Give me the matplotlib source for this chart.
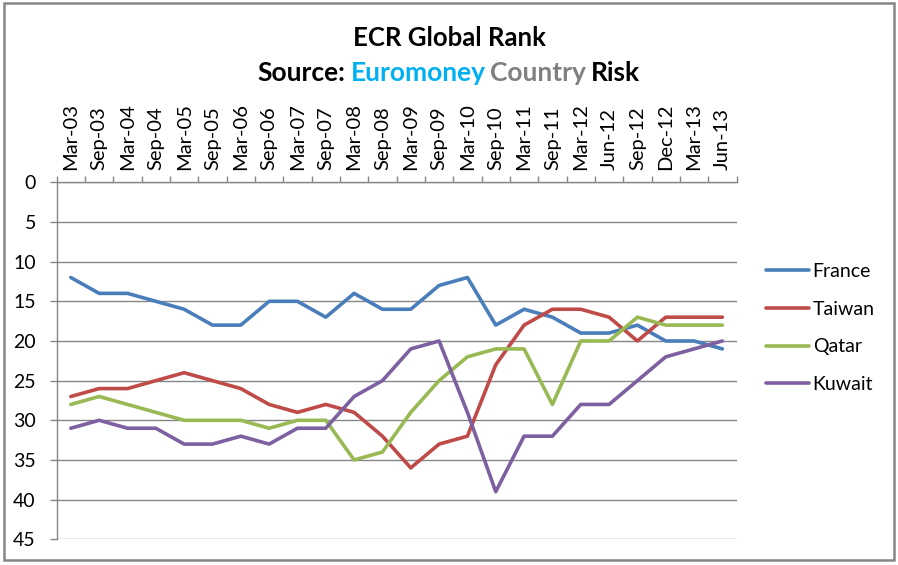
import numpy as np
import matplotlib.pyplot as plt

plt.rcParams['font.family'] = ['Lato', 'DejaVu Sans']

# Data (ECR global rank, lower is better)
periods = ['Mar-03', 'Sep-03', 'Mar-04', 'Sep-04', 'Mar-05', 'Sep-05', 'Mar-06', 'Sep-06',
           'Mar-07', 'Sep-07', 'Mar-08', 'Sep-08', 'Mar-09', 'Sep-09', 'Mar-10', 'Sep-10',
           'Mar-11', 'Sep-11', 'Mar-12', 'Jun-12', 'Sep-12', 'Dec-12', 'Mar-13', 'Jun-13']
france = [12, 14, 14, 15, 16, 18, 18, 15, 15, 17, 14, 16, 16, 13, 12, 18, 16, 17, 19, 19, 18, 20, 20, 21]
taiwan = [27, 26, 26, 25, 24, 25, 26, 28, 29, 28, 29, 32, 36, 33, 32, 23, 18, 16, 16, 17, 20, 17, 17, 17]
qatar = [28, 27, 28, 29, 30, 30, 30, 31, 30, 30, 35, 34, 29, 25, 22, 21, 21, 28, 20, 20, 17, 18, 18, 18]
kuwait = [31, 30, 31, 31, 33, 33, 32, 33, 31, 31, 27, 25, 21, 20, 29, 39, 32, 32, 28, 28, 25, 22, 21, 20]

series = [('France', france, '#4A7EBB'),
          ('Taiwan', taiwan, '#BE4B48'),
          ('Qatar', qatar, '#98B954'),
          ('Kuwait', kuwait, '#7D60A0')]

grey = '#868686'

fig = plt.figure(figsize=(8.98, 5.65), dpi=100)
ax = fig.add_axes([0.0631, 0.0455, 0.7571, 0.6318])

x = np.arange(len(periods))
for name, vals, col in series:
    ax.plot(x, vals, color=col, lw=2.6, label=name, solid_capstyle='round', solid_joinstyle='round')

ax.set_xlim(-0.5, len(periods) - 0.5)
ax.set_ylim(45, 0)
ax.set_yticks(np.arange(0, 46, 5))
ax.yaxis.grid(True, color=grey, lw=1.0)
ax.set_axisbelow(True)

ax.xaxis.tick_top()
ax.set_xticks(x)
ax.set_xticklabels(periods, rotation=90, fontsize=14.5)
ax.set_xticks(np.arange(-0.5, len(periods), 1), minor=True)
ax.tick_params(axis='x', which='major', length=0, pad=9)
ax.tick_params(axis='x', which='minor', length=4, color=grey, width=1, top=True, bottom=False)
ax.tick_params(axis='y', length=5, color=grey, width=1, pad=10, labelsize=14)

for side in ['right', 'bottom']:
    ax.spines[side].set_visible(False)
for side in ['left', 'top']:
    ax.spines[side].set_color(grey)
    ax.spines[side].set_linewidth(1.0)

leg = fig.legend(loc='center left', bbox_to_anchor=(0.853, 0.4195), frameon=False,
                 fontsize=14, handlelength=2.2, handletextpad=0.2, labelspacing=1.07,
                 borderpad=0, borderaxespad=0)

# Title
fig.text(0.5, 0.933, 'ECR Global Rank', ha='center', va='center', fontsize=18.5, fontweight='bold')

pieces = [('Source:', 'black'), ('Euromoney', '#00B0F0'), ('Country', '#808080'), ('Risk', 'black')]
texts = []
for word, col in pieces:
    texts.append(fig.text(0.5, 0.871, word, ha='left', va='center', fontsize=19,
                          fontweight='bold', color=col))

# line the coloured words up side by side, centred as a group
fig.canvas.draw()
renderer = fig.canvas.get_renderer()
gap = 5
widths = [t.get_window_extent(renderer).width for t in texts]
total = sum(widths) + gap * (len(texts) - 1)
W = fig.get_size_inches()[0] * fig.dpi
x0 = W / 2 - total / 2
for t, w in zip(texts, widths):
    t.set_x(x0 / W)
    x0 += w + gap

border = plt.Rectangle((0.004, 0.008), 0.991, 0.986, transform=fig.transFigure, fill=False,
                       edgecolor=grey, lw=1.8)
fig.patches.append(border)

fig.savefig('out.png', dpi=100)
